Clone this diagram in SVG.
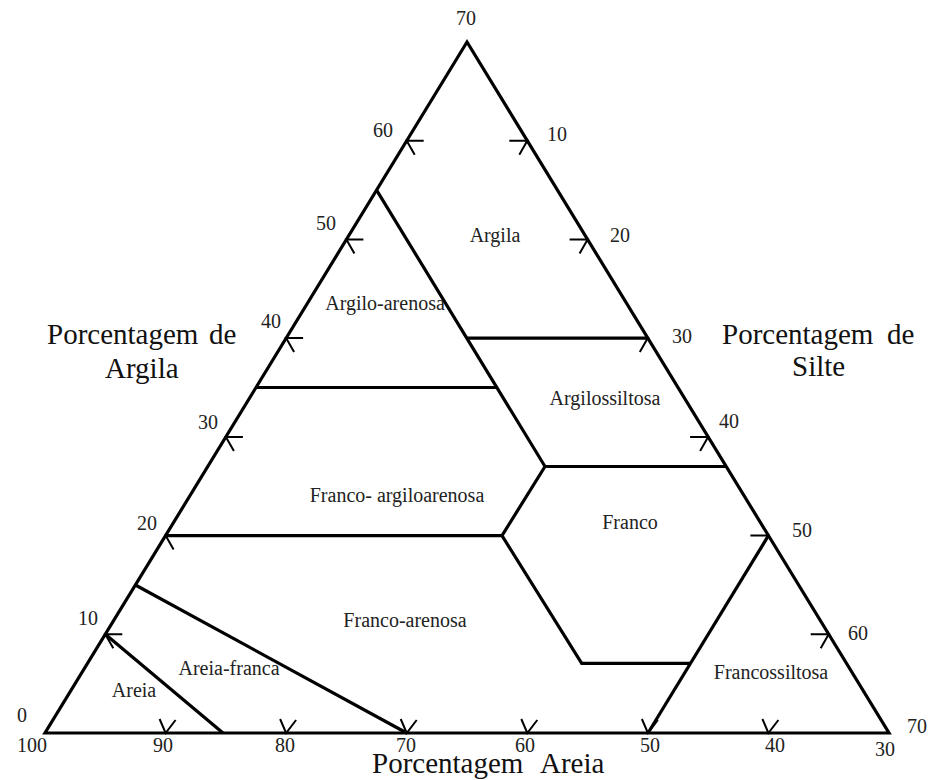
<svg xmlns="http://www.w3.org/2000/svg" width="932" height="780" viewBox="0 0 932 780">
<style>
.ln{fill:none;stroke:#000;stroke-width:3.2;stroke-linejoin:miter;stroke-linecap:butt}
.tk{fill:none;stroke:#000;stroke-width:2}
.num{font-family:"Liberation Serif","Times New Roman",serif;font-size:20px;fill:#222}
.lbl{font-family:"Liberation Serif","Times New Roman",serif;font-size:20px;fill:#222;text-anchor:middle}
.ttl{font-family:"Liberation Serif","Times New Roman",serif;font-size:29px;fill:#111}
</style>
<defs>
<path id="tl" d="M17,0 L0,0 L8,14"/>
<path id="tr" d="M-18,0 L0,0 L-8,14"/>
<path id="tb" d="M-6,-14 L0,0 L10,-13"/>
</defs>
<rect width="932" height="780" fill="#fff"/>
<g id="connectors">
<polygon class="ln" points="467,42 45,733 889,733"/>
<polyline class="ln" points="376.6,190.1 545,466.5 726.2,466.5"/>
<line class="ln" x1="466.8" y1="338.1" x2="647.8" y2="338.1"/>
<line class="ln" x1="256" y1="387.5" x2="496.9" y2="387.5"/>
<polyline class="ln" points="545,466.5 502,535.6 165.6,535.6"/>
<polyline class="ln" points="502,535.6 581.7,663.3 690.5,663.3"/>
<line class="ln" x1="768.4" y1="535.6" x2="648" y2="733"/>
<line class="ln" x1="135.4" y1="585" x2="406.7" y2="733"/>
<line class="ln" x1="105.3" y1="634.3" x2="223" y2="733"/>
<g class="tk">
<use href="#tl" x="105.3" y="634.3"/>
<use href="#tl" x="165.6" y="535.6"/>
<use href="#tl" x="225.9" y="436.9"/>
<use href="#tl" x="286.1" y="338.1"/>
<use href="#tl" x="346.4" y="239.4"/>
<use href="#tl" x="406.7" y="140.7"/>
<use href="#tr" x="527.3" y="140.7"/>
<use href="#tr" x="587.6" y="239.4"/>
<use href="#tr" x="647.8" y="338.1"/>
<use href="#tr" x="708.1" y="436.9"/>
<use href="#tr" x="768.4" y="535.6"/>
<use href="#tr" x="828.7" y="634.3"/>
<use href="#tb" x="165.6" y="733"/>
<use href="#tb" x="286.1" y="733"/>
<use href="#tb" x="406.7" y="733"/>
<use href="#tb" x="527.3" y="733"/>
<use href="#tb" x="647.9" y="733"/>
<use href="#tb" x="768.4" y="733"/>
</g>
</g>
<g id="scale-clay">
<text class="num" x="456" y="25">70</text>
<text class="num" x="373" y="137">60</text>
<text class="num" x="316" y="230">50</text>
<text class="num" x="261" y="328">40</text>
<text class="num" x="198" y="429">30</text>
<text class="num" x="137" y="530">20</text>
<text class="num" x="78" y="625">10</text>
<text class="num" x="17" y="722">0</text>
</g>
<g id="scale-silt">
<text class="num" x="547" y="141">10</text>
<text class="num" x="610" y="242">20</text>
<text class="num" x="672" y="343">30</text>
<text class="num" x="719" y="428">40</text>
<text class="num" x="792" y="537">50</text>
<text class="num" x="848" y="640">60</text>
<text class="num" x="907" y="733">70</text>
</g>
<g id="scale-sand">
<text class="num" x="17" y="752">100</text>
<text class="num" x="153" y="752">90</text>
<text class="num" x="275" y="752">80</text>
<text class="num" x="396" y="752">70</text>
<text class="num" x="515" y="752">60</text>
<text class="num" x="640" y="752">50</text>
<text class="num" x="765" y="752">40</text>
<text class="num" x="875" y="756">30</text>
</g>
<g id="title-argila">
<text class="ttl" y="344"><tspan x="47">Porcentagem</tspan><tspan x="209">de</tspan></text>
<text class="ttl" x="105" y="378">Argila</text>
</g>
<g id="title-silte">
<text class="ttl" y="344"><tspan x="722">Porcentagem</tspan><tspan x="887">de</tspan></text>
<text class="ttl" x="792" y="376">Silte</text>
</g>
<g id="title-areia">
<text class="ttl" y="773"><tspan x="372">Porcentagem</tspan><tspan x="540">Areia</tspan></text>
</g>
<g id="argila"><text class="lbl" x="495" y="242">Argila</text></g>
<g id="argilo-arenosa"><text class="lbl" x="385" y="310">Argilo-arenosa</text></g>
<g id="argilossiltosa"><text class="lbl" x="605" y="405">Argilossiltosa</text></g>
<g id="franco-argiloarenosa"><text class="lbl" x="397" y="502">Franco- argiloarenosa</text></g>
<g id="franco"><text class="lbl" x="630" y="529">Franco</text></g>
<g id="franco-arenosa"><text class="lbl" x="405" y="627">Franco-arenosa</text></g>
<g id="areia-franca"><text class="lbl" x="229" y="675">Areia-franca</text></g>
<g id="areia"><text class="lbl" x="134" y="697">Areia</text></g>
<g id="francossiltosa"><text class="lbl" x="771" y="679">Francossiltosa</text></g>
</svg>
